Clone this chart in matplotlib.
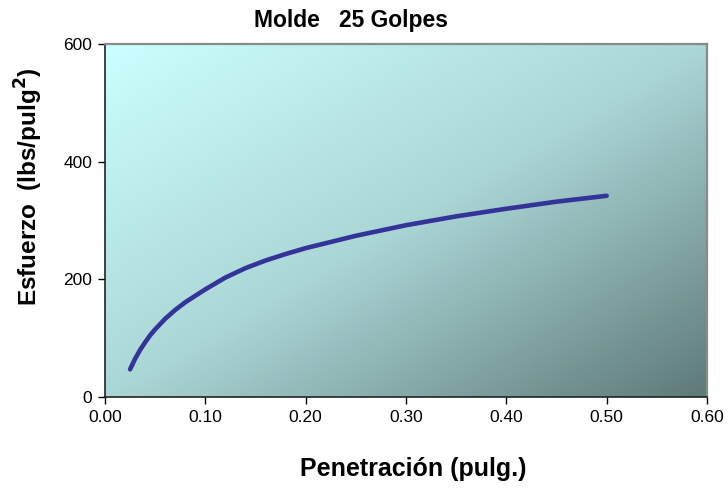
import numpy as np
import matplotlib
matplotlib.use("Agg")
import matplotlib.pyplot as plt
from matplotlib.colors import LinearSegmentedColormap

plt.rcParams['font.family'] = ['Liberation Sans', 'DejaVu Sans']

# Penetration (in) and stress (lbs/in^2) along the curve
penetracion = [0.025, 0.030, 0.035, 0.040, 0.045, 0.050, 0.060, 0.070,
               0.080, 0.090, 0.100, 0.120, 0.140, 0.160, 0.180, 0.200,
               0.250, 0.300, 0.350, 0.400, 0.450, 0.500]
esfuerzo = [47, 65, 80, 93, 105, 115, 133, 148,
            161, 172, 183, 203, 219, 232, 243, 253,
            274, 292, 307, 320, 332, 342]

x_ticks = [0.0, 0.1, 0.2, 0.3, 0.4, 0.5, 0.6]
y_ticks = [0, 200, 400, 600]

W, H = 728, 493
fig = plt.figure(figsize=(W / 100, H / 100), dpi=100)
ax = fig.add_axes([105 / W, 1 - 397 / H, (707 - 105) / W, (397 - 44) / H])

# diagonal gradient fill of the plot area (top-left light, bottom-right dark)
n = 300
u = np.linspace(0, 1, n)
U, V = np.meshgrid(u, u)          # V: 0 at top row
grad = (U + V) / 2.0
cmap = LinearSegmentedColormap.from_list(
    "fondo", ["#ccffff", "#abd6d6", "#5e7a79"])
ax.imshow(grad, cmap=cmap, extent=[0, 1, 0, 1], transform=ax.transAxes,
          aspect="auto", zorder=0, interpolation="bilinear")

ax.plot(penetracion, esfuerzo, color="#333399", lw=3.3,
        solid_capstyle="round", solid_joinstyle="round", zorder=3)

ax.set_xlim(0, 0.6)
ax.set_ylim(0, 600)
ax.set_xticks(x_ticks)
ax.set_xticklabels([f"{t:.2f}" for t in x_ticks])
ax.set_yticks(y_ticks)
ax.set_yticklabels([str(t) for t in y_ticks])
ax.tick_params(direction="out", length=5, width=1, colors="black",
               labelsize=12.5, pad=4)

for side in ("top", "right"):
    ax.spines[side].set_color("#8a8a8a")
    ax.spines[side].set_linewidth(1.6)
for side in ("left", "bottom"):
    ax.spines[side].set_color("#222222")
    ax.spines[side].set_linewidth(1.2)

fig.text(350.5 / W, 1 - 27 / H, "Molde   25 Golpes", fontsize=16.5,
         fontweight="bold", ha="center", va="baseline")
fig.text(413.5 / W, 1 - 476 / H, "Penetración (pulg.)", fontsize=18,
         fontweight="bold", ha="center", va="baseline")
ax.set_ylabel("Esfuerzo  (lbs/pulg$^\\mathbf{2}$)", fontsize=17.5,
              fontweight="bold")
ax.yaxis.set_label_coords(-0.1, (397 - 186.5) / 353)

fig.savefig("out.png", dpi=100)
